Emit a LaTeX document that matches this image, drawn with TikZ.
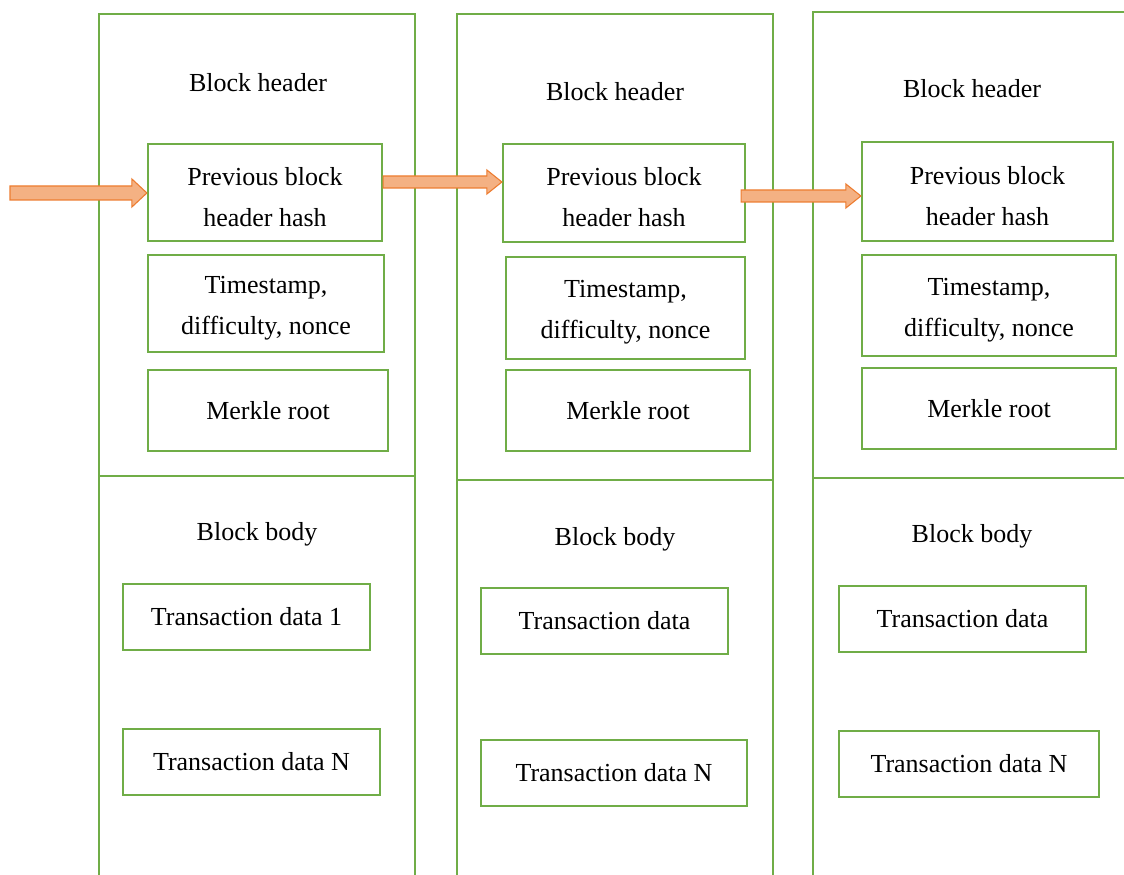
\documentclass[tikz,border=0pt]{standalone}
\usepackage{fontspec}
\setmainfont{Liberation Serif}
\usetikzlibrary{calc}
\definecolor{grn}{HTML}{70AD47}
\definecolor{orfill}{HTML}{F4B183}
\definecolor{ordraw}{HTML}{ED7D31}
\tikzset{
  blk/.style={draw=grn, line width=2.2pt},
  box/.style={draw=grn, line width=2.2pt, align=center, inner sep=0pt},
  lbl/.style={inner sep=0pt, align=center},
  two/.style={label={[lbl,yshift=-4.5pt]center:#1}},
  arr/.style={fill=orfill, draw=ordraw, line width=1.1pt, line join=miter},
}
\newcommand\blockarrow[3]{% from, to, half shaft
  \filldraw[arr] let \p1=(#1), \p2=(#2) in
   (\x1,\y1+#3) -- (\x2-15,\y1+#3) -- (\x2-15,\y1+2*#3) -- (\x2,\y1) -- (\x2-15,\y1-2*#3) -- (\x2-15,\y1-#3) -- (\x1,\y1-#3) -- cycle;}
\begin{document}
\begin{tikzpicture}[x=1pt,y=1pt,font=\fontsize{26}{41}\selectfont]
\useasboundingbox (0,0) rectangle (1124,875);
\begin{scope}
\clip (0,0) rectangle (1124,875);
% block outlines
\draw[blk] (99,-5) |- (415,861) -- (415,-5);
\draw[blk] (99,399) -- (415,399);
\draw[blk] (457,-5) |- (773,861) -- (773,-5);
\draw[blk] (457,395) -- (773,395);
\draw[blk] (813,-5) |- (1130,863);
\draw[blk] (813,397) -- (1130,397);
\end{scope}
% titles
\node[lbl] (bh1) at (258,792) {Block header};
\node[lbl] (bh2) at (615,783) {Block header};
\node[lbl] (bh3) at (972,786) {Block header};
\node[lbl] (bb1) at (257,341) {Block body};
\node[lbl] (bb2) at (615,336) {Block body};
\node[lbl] (bb3) at (972,339) {Block body};
% block 1
\node[box, minimum width=234, minimum height=97, two={Previous block\\header hash}] (prev1) at (265,682.5) {};
\node[box, minimum width=236, minimum height=97, two={Timestamp,\\difficulty, nonce}] (ts1) at (266,571.5) {};
\node[box, minimum width=240, minimum height=81] (mr1) at (268,464.5) {Merkle root};
\node[box, minimum width=247, minimum height=66] (ta1) at (246.5,258) {Transaction data 1};
\node[box, minimum width=257, minimum height=66] (tn1) at (251.5,113) {Transaction data N};
% block 2
\node[box, minimum width=242, minimum height=98, two={Previous block\\header hash}] (prev2) at (624,682) {};
\node[box, minimum width=239, minimum height=102, two={Timestamp,\\difficulty, nonce}] (ts2) at (625.5,567) {};
\node[box, minimum width=244, minimum height=81] (mr2) at (628,464.5) {Merkle root};
\node[box, minimum width=247, minimum height=66] (ta2) at (604.5,254) {Transaction data};
\node[box, minimum width=266, minimum height=66] (tn2) at (614,102) {Transaction data N};
% block 3
\node[box, minimum width=251, minimum height=99, two={Previous block\\header hash}] (prev3) at (987.5,683.5) {};
\node[box, minimum width=254, minimum height=101, two={Timestamp,\\difficulty, nonce}] (ts3) at (989,569.5) {};
\node[box, minimum width=254, minimum height=81] (mr3) at (989,466.5) {Merkle root};
\node[box, minimum width=247, minimum height=66] (ta3) at (962.5,256) {Transaction data};
\node[box, minimum width=260, minimum height=66] (tn3) at (969,111) {Transaction data N};
% arrows
\coordinate (a1s) at (10,682);
\coordinate (a2s) at ($(prev1.east)+(0,10.5)$);
\coordinate (a3s) at ($(prev2.east)+(-5,-3)$);
\blockarrow{a1s}{prev1.west}{7}
\blockarrow{a2s}{prev2.west}{6}
\blockarrow{a3s}{prev3.west}{6}
\end{tikzpicture}
\end{document}
